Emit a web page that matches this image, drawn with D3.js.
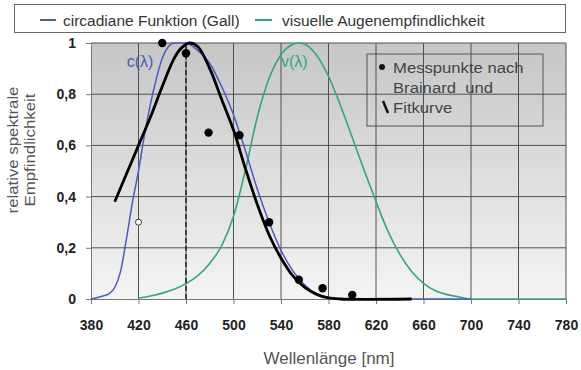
<!DOCTYPE html>
<html>
<head>
<meta charset="utf-8">
<script src="https://cdn.jsdelivr.net/npm/d3@7"></script>
<style>
  body { margin: 0; background: #fff; }
  svg { font-family: "Liberation Sans", Arial, sans-serif; }
</style>
</head>
<body>
<div id="chart"></div>
<script>
// circadian function (Gall), blue
const circLambda = [380, 385, 390, 395, 400, 405, 410, 415, 420, 425, 430, 435, 440, 445, 450, 460, 470, 480, 490, 500, 510, 520, 530, 540, 550, 560, 570, 580, 590, 700];
const circValue  = [0, 0.005, 0.012, 0.02, 0.045, 0.11, 0.24, 0.38, 0.5, 0.64, 0.76, 0.86, 0.94, 0.985, 1.0, 1.0, 0.97, 0.92, 0.83, 0.72, 0.58, 0.43, 0.3, 0.19, 0.11, 0.055, 0.02, 0.006, 0, 0];

// visual sensitivity V(lambda), green
const visLambda = [420, 430, 440, 450, 460, 470, 480, 490, 500, 510, 520, 530, 540, 550, 555, 560, 570, 580, 590, 600, 610, 620, 630, 640, 650, 660, 670, 680, 690, 700, 780];
const visValue  = [0.004, 0.012, 0.023, 0.038, 0.06, 0.091, 0.139, 0.208, 0.323, 0.503, 0.71, 0.862, 0.954, 0.995, 1.0, 0.995, 0.952, 0.87, 0.757, 0.631, 0.503, 0.381, 0.265, 0.175, 0.107, 0.061, 0.032, 0.017, 0.008, 0, 0];

// fit curve, black
const fitLambda = [400, 410, 420, 430, 440, 450, 456, 463, 470, 480, 490, 500, 510, 520, 530, 540, 550, 560, 570, 580, 590, 650];
const fitValue  = [0.38, 0.49, 0.6, 0.71, 0.83, 0.94, 0.98, 1.0, 0.985, 0.9, 0.78, 0.66, 0.51, 0.37, 0.25, 0.16, 0.09, 0.045, 0.018, 0.004, 0, 0];

// measured points (Brainard)
const measLambda = [440, 460, 479, 505, 530, 555, 575, 600];
const measValue  = [1.0, 0.96, 0.65, 0.64, 0.3, 0.075, 0.042, 0.016];
const openLambda = [420];
const openValue  = [0.3];

const peakLambda = 460;

const xTicks = [380, 420, 460, 500, 540, 580, 620, 660, 700, 740, 780];
const yTicks = [0, 0.2, 0.4, 0.6, 0.8, 1];

const W = 581, H = 370;
const margin = { top: 43, right: 15, bottom: 71, left: 91 };
const width = W - margin.left - margin.right;
const height = H - margin.top - margin.bottom;

const svg = d3.select('#chart').append('svg')
    .attr('width', W)
    .attr('height', H);

const defs = svg.append('defs');
const grad = defs.append('linearGradient')
    .attr('id', 'bg').attr('x1', 0).attr('y1', 0).attr('x2', 0).attr('y2', 1);
grad.append('stop').attr('offset', '0%').attr('stop-color', '#c6c6c6');
grad.append('stop').attr('offset', '100%').attr('stop-color', '#f4f4f4');

const g = svg.append('g')
    .attr('transform', 'translate(' + margin.left + ',' + margin.top + ')');

const x = d3.scaleLinear().domain([380, 780]).range([0, width]);
const y = d3.scaleLinear().domain([0, 1]).range([height, 0]);

// plot background
g.append('rect')
    .attr('x', 0).attr('y', 0)
    .attr('width', width).attr('height', height)
    .attr('fill', 'url(#bg)');

// grid
g.append('g')
    .selectAll('line')
    .data(xTicks.slice(1))
    .join('line')
    .attr('x1', d => x(d)).attr('x2', d => x(d))
    .attr('y1', 0).attr('y2', height)
    .attr('stroke', '#505050').attr('stroke-width', 1);
g.append('g')
    .selectAll('line')
    .data(yTicks.slice(1))
    .join('line')
    .attr('x1', 0).attr('x2', width)
    .attr('y1', d => y(d)).attr('y2', d => y(d))
    .attr('stroke', '#505050').attr('stroke-width', 1);

// axes
const xAxis = g.append('g')
    .attr('transform', 'translate(0,' + height + ')')
    .call(d3.axisBottom(x).tickValues(xTicks).tickSize(5).tickSizeOuter(0).tickPadding(16));
xAxis.selectAll('text')
    .style('font-size', '14px').style('font-weight', 'bold').attr('fill', '#222');

const yAxis = g.append('g')
    .call(d3.axisLeft(y).tickValues(yTicks).tickSize(5).tickSizeOuter(0).tickPadding(10)
        .tickFormat(d => d === 0 || d === 1 ? String(d) : d3.format('.1f')(d).replace('.', ',')));
yAxis.selectAll('text')
    .style('font-size', '14px').style('font-weight', 'bold').attr('fill', '#222');
[xAxis, yAxis].forEach(a => {
    a.select('.domain').attr('stroke', '#777');
    a.selectAll('.tick line').attr('stroke', '#777');
});

// curves
const line = d3.line().x(d => x(d[0])).y(d => y(d[1])).curve(d3.curveMonotoneX);
const smooth = d3.line().x(d => x(d[0])).y(d => y(d[1])).curve(d3.curveCatmullRom.alpha(0.5));
const zip = (a, b) => a.map((v, i) => [v, b[i]]);

g.append('path')
    .datum(zip(visLambda, visValue))
    .attr('d', line)
    .attr('fill', 'none').attr('stroke', '#2fa87e').attr('stroke-width', 1.6);

g.append('path')
    .datum(zip(circLambda, circValue))
    .attr('d', line)
    .attr('fill', 'none').attr('stroke', '#4a5bbd').attr('stroke-width', 1.5);

g.append('path')
    .datum(zip(fitLambda, fitValue))
    .attr('d', smooth)
    .attr('fill', 'none').attr('stroke', '#000').attr('stroke-width', 2.8);

// dashed peak marker
g.append('line')
    .attr('x1', x(peakLambda)).attr('x2', x(peakLambda))
    .attr('y1', y(0)).attr('y2', y(1))
    .attr('stroke', '#222').attr('stroke-width', 1.5)
    .attr('stroke-dasharray', '5,3');

// measured points
g.selectAll('circle.meas')
    .data(zip(measLambda, measValue))
    .join('circle')
    .attr('class', 'meas')
    .attr('cx', d => x(d[0])).attr('cy', d => y(d[1]))
    .attr('r', 4.2).attr('fill', '#000');
g.selectAll('circle.open')
    .data(zip(openLambda, openValue))
    .join('circle')
    .attr('class', 'open')
    .attr('cx', d => x(d[0])).attr('cy', d => y(d[1]))
    .attr('r', 3).attr('fill', '#fff').attr('stroke', '#333').attr('stroke-width', 1);

// curve labels
g.append('text').attr('x', x(410)).attr('y', y(0.905))
    .attr('fill', '#4a5bbd').style('font-size', '16px').text('c(λ)');
g.append('text').attr('x', x(540)).attr('y', y(0.905))
    .attr('fill', '#2fa87e').style('font-size', '16px').text('v(λ)');

// inner legend
const lg = g.append('g').attr('transform', 'translate(276,11)');
lg.append('rect').attr('width', 176).attr('height', 72)
    .attr('fill', 'none').attr('stroke', '#555').attr('stroke-width', 1);
lg.append('circle').attr('cx', 15).attr('cy', 13).attr('r', 3).attr('fill', '#111');
lg.append('line').attr('x1', 16).attr('y1', 47).attr('x2', 21).attr('y2', 59)
    .attr('stroke', '#111').attr('stroke-width', 2.5);
const lgText = ['Messpunkte nach', 'Brainard  und', 'Fitkurve'];
lg.selectAll('text.lt')
    .data(lgText)
    .join('text')
    .attr('class', 'lt')
    .attr('transform', (d, i) => 'translate(26,' + (19 + i * 20) + ') scale(1.15,1)')
    .attr('fill', '#444').style('font-size', '14.5px')
    .style('white-space', 'pre')
    .text(d => d);

// top legend
const topLegend = svg.append('g');
topLegend.append('rect').attr('x', 14.5).attr('y', 4.5).attr('width', 551).attr('height', 28)
    .attr('fill', '#fff').attr('stroke', '#666').attr('stroke-width', 1);
topLegend.append('line').attr('x1', 40).attr('x2', 56).attr('y1', 20).attr('y2', 20)
    .attr('stroke', '#4a5bbd').attr('stroke-width', 2);
topLegend.append('text').attr('x', 63).attr('y', 25.5).attr('fill', '#333')
    .style('font-size', '15.5px').text('circadiane Funktion (Gall)');
topLegend.append('line').attr('x1', 255).attr('x2', 272).attr('y1', 20).attr('y2', 20)
    .attr('stroke', '#2fa87e').attr('stroke-width', 2);
topLegend.append('text').attr('x', 282).attr('y', 25.5).attr('fill', '#333')
    .style('font-size', '15.5px').text('visuelle Augenempfindlichkeit');

// axis titles
svg.append('text')
    .attr('transform', 'translate(18,150) rotate(-90) scale(1.2,1)')
    .attr('text-anchor', 'middle').attr('fill', '#555').style('font-size', '14px')
    .text('relative spektrale');
svg.append('text')
    .attr('transform', 'translate(35,150) rotate(-90) scale(1.2,1)')
    .attr('text-anchor', 'middle').attr('fill', '#555').style('font-size', '14px')
    .text('Empfindlichkeit');
svg.append('text')
    .attr('x', 329).attr('y', 364)
    .attr('text-anchor', 'middle').attr('fill', '#555').style('font-size', '17px')
    .text('Wellenlänge [nm]');
</script>
</body>
</html>
